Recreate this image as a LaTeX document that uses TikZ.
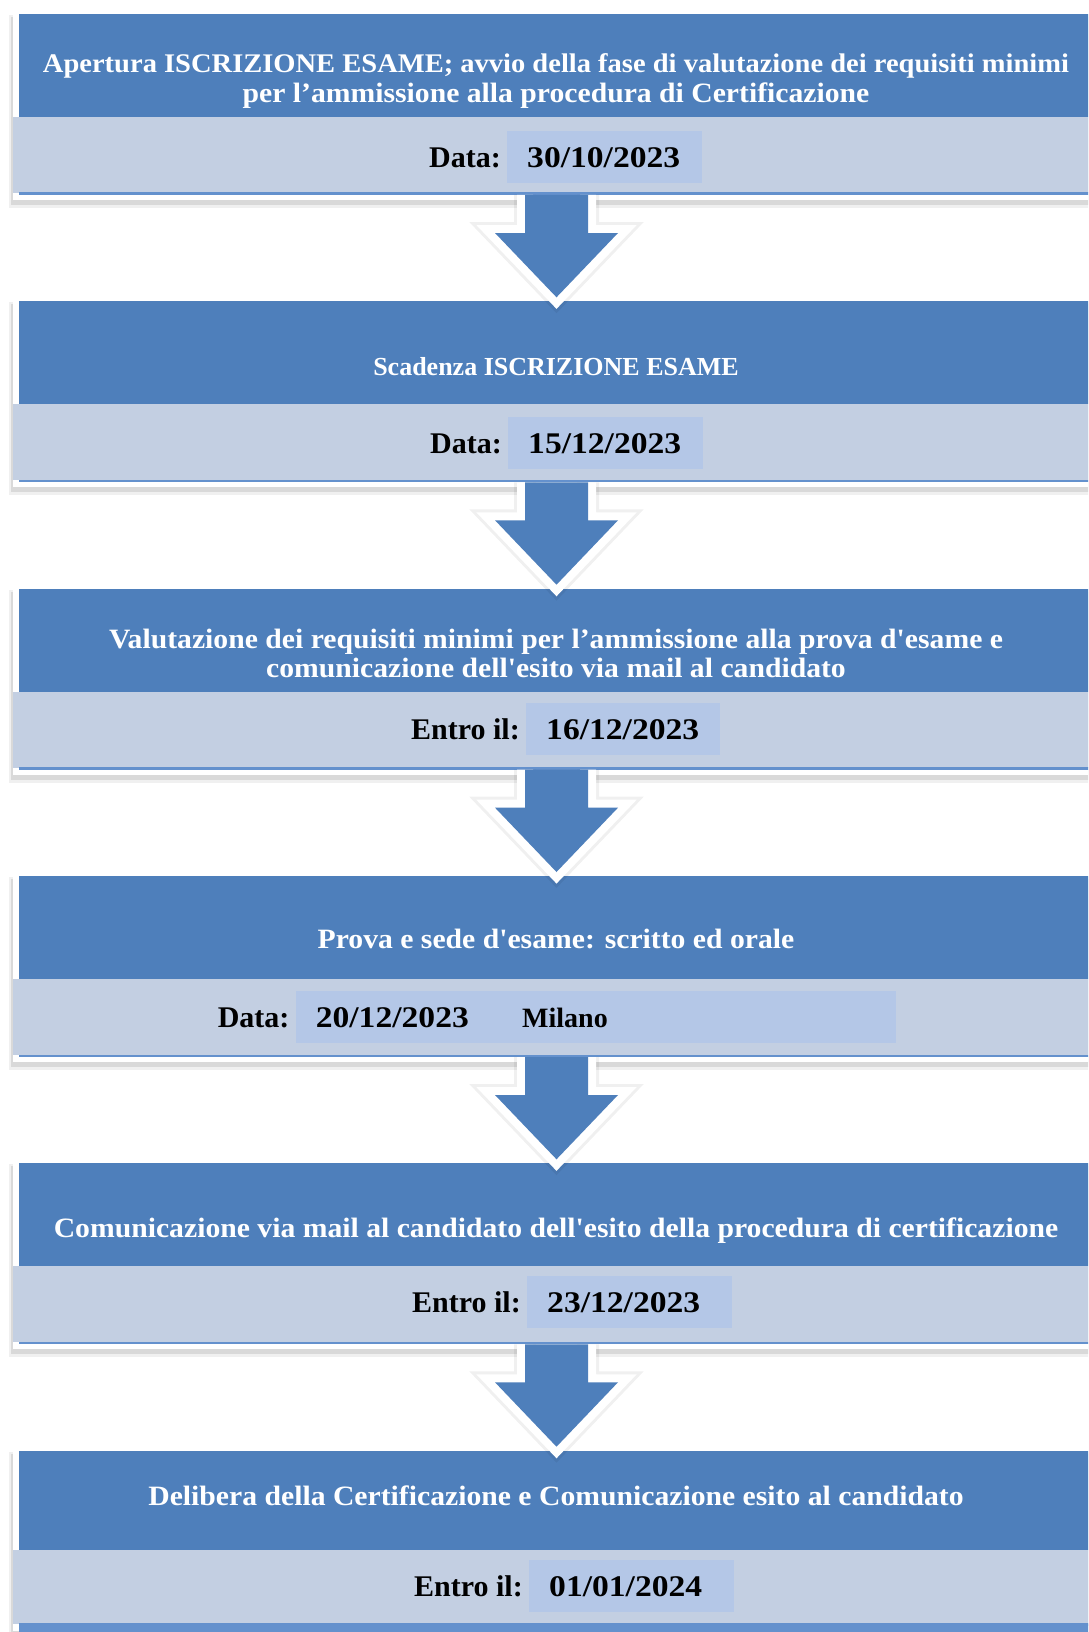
\documentclass[tikz,border=0pt]{standalone}
\usepackage{fontspec}
\setmainfont{Liberation Serif}
\newfontfamily\titlefont{Liberation Serif}[Ligatures=TeXOff, FakeStretch=1.06]
\newfontfamily\plainfont{Liberation Serif}[Ligatures=TeXOff]
\newfontfamily\digitfont{Liberation Serif}[FakeStretch=1.12]
\usetikzlibrary{calc}
\definecolor{bandblue}{RGB}{78,127,187}
\definecolor{bandlight}{RGB}{195,207,226}
\definecolor{datebg}{RGB}{180,199,231}
\definecolor{lineblue}{RGB}{100,145,205}

\tikzset{
  topband/.style={fill=bandblue, draw=none, inner sep=0pt, outer sep=0pt, anchor=north, minimum width=1075pt},
  lowband/.style={fill=bandlight, draw=none, inner sep=0pt, outer sep=0pt, anchor=north, minimum width=1087pt},
  titletxt/.style={text=white, font=\titlefont\fontsize{28}{32}\selectfont\bfseries, inner sep=0pt, anchor=base},
  titlenarrow/.style={text=white, font=\titlefont\fontsize{26.9}{31}\selectfont\bfseries, inner sep=0pt, anchor=base},
  titlecaps/.style={text=white, font=\plainfont\fontsize{26}{30}\selectfont\bfseries, inner sep=0pt, anchor=base},
  datebox/.style={fill=datebg, draw=none, inner sep=0pt, outer sep=0pt, anchor=west, minimum height=52pt},
  datelabel/.style={text=black, font=\plainfont\fontsize{30}{34}\selectfont\bfseries, inner sep=0pt},
  datevalue/.style={text=black, font=\digitfont\fontsize{30}{34}\selectfont\bfseries, inner sep=0pt},
  placetxt/.style={text=black, font=\plainfont\fontsize{28}{32}\selectfont\bfseries, inner sep=0pt},
  arrowfill/.style={fill=bandblue, draw=none},
  arrowrim/.style={draw=white, line width=16pt, line join=miter, miter limit=6},
  arrowshade/.style={draw=black, opacity=0.06, line width=22pt, line join=miter, miter limit=6},
}

\newcommand\mkbox[4]{% idx, top, blue height, light height
  \fill[black!6] (9,#2+1) rectangle (1100,#2+#3+#4+15);
  \fill[black!15] (11,#2+3) rectangle (1100,#2+#3+#4+12);
  \fill[white] (13,#2-1) rectangle (1100,#2+#3+#4+7);
  \node[topband, minimum height=#3pt] (b#1) at (556.5,#2) {};
  \node[lowband, minimum height=#4pt] (l#1) at (556.5,#2+#3) {};
  \fill[lineblue] (19,#2+#3+#4-0.5) rectangle (1100,#2+#3+#4+2);
}

\newcommand\mkdate[6]{% idx, label, x0, x1, cy, value
  \node[datebox, minimum width={#4pt-#3pt}] (d#1) at (#3,#5) {};
  \node[datelabel, anchor=base east] (k#1) at (#3-6,#5+10.5) {#2};
  \node[datevalue, anchor=base west] (v#1) at (#3+20,#5+10.5) {#6};
}

\newcommand\mkarrow[2]{% from lower band #1 to top band #2
  \draw[arrowshade] let \p1=(l#1.south), \p2=(b#2.north) in
    (\x1-31.5pt,\y1-2pt) -- (\x1-31.5pt,\y1-40pt) -- (\x1-61.5pt,\y1-40pt) -- (\x1,\y2+4pt)
    -- (\x1+61.5pt,\y1-40pt) -- (\x1+31.5pt,\y1-40pt) -- (\x1+31.5pt,\y1-2pt);
  \draw[arrowrim] let \p1=(l#1.south), \p2=(b#2.north) in
    (\x1-31.5pt,\y1-2pt) -- (\x1-31.5pt,\y1-40pt) -- (\x1-61.5pt,\y1-40pt) -- (\x1,\y2+4pt)
    -- (\x1+61.5pt,\y1-40pt) -- (\x1+31.5pt,\y1-40pt) -- (\x1+31.5pt,\y1-2pt);
  \fill[arrowfill] let \p1=(l#1.south), \p2=(b#2.north) in
    (\x1-31.5pt,\y1-2pt) -- (\x1-31.5pt,\y1-40pt) -- (\x1-61.5pt,\y1-40pt) -- (\x1,\y2+4pt)
    -- (\x1+61.5pt,\y1-40pt) -- (\x1+31.5pt,\y1-40pt) -- (\x1+31.5pt,\y1-2pt) -- cycle;
}

\begin{document}
\begin{tikzpicture}[x=1pt,y=-1pt]
\useasboundingbox (0,0) rectangle (1088,1632);
\clip (0,0) rectangle (1088,1632);
\fill[white] (0,0) rectangle (1088,1632);

% boxes
\mkbox{1}{14}{103}{76}
\mkbox{2}{301.3}{103}{76}
\mkbox{3}{588.7}{103}{76}
\mkbox{4}{876}{103}{76}
\mkbox{5}{1163.3}{103}{76}
\mkbox{6}{1450.7}{99.5}{73.5}
\fill[lineblue] (19,1623.5) rectangle (1100,1632);

% titles
\node[titlenarrow] (t1a) at (556,72.5) {Apertura ISCRIZIONE ESAME; avvio della fase di valutazione dei requisiti minimi};
\node[titletxt] (t1b) at (556,102.5) {per l’ammissione alla procedura di Certificazione};
\node[titlecaps] (t2) at (556,375.3) {Scadenza ISCRIZIONE ESAME};
\node[titletxt] (t3a) at (556,648.2) {Valutazione dei requisiti minimi per l’ammissione alla prova d'esame e};
\node[titletxt] (t3b) at (556,677.2) {comunicazione dell'esito via mail al candidato};
\node[titletxt] (t4) at (556,948.5) {Prova e sede d'esame: scritto ed orale};
\node[titletxt] (t5) at (556,1237) {Comunicazione via mail al candidato dell'esito della procedura di certificazione};
\node[titletxt] (t6) at (556,1505) {Delibera della Certificazione e Comunicazione esito al candidato};

% date rows
\mkdate{1}{Data:}{507}{702}{157}{30/10/2023}
\mkdate{2}{Data:}{508}{703}{442.5}{15/12/2023}
\mkdate{3}{Entro il:}{526}{720}{729}{16/12/2023}
\mkdate{4}{Data:}{295.6}{896.4}{1017}{20/12/2023}
\node[placetxt, anchor=base west] (m4) at (522,1027.5) {Milano};
\mkdate{5}{Entro il:}{527}{732}{1301.5}{23/12/2023}
\mkdate{6}{Entro il:}{529}{733.5}{1586}{01/01/2024}

% arrows
\mkarrow{1}{2}
\mkarrow{2}{3}
\mkarrow{3}{4}
\mkarrow{4}{5}
\mkarrow{5}{6}
\end{tikzpicture}
\end{document}
